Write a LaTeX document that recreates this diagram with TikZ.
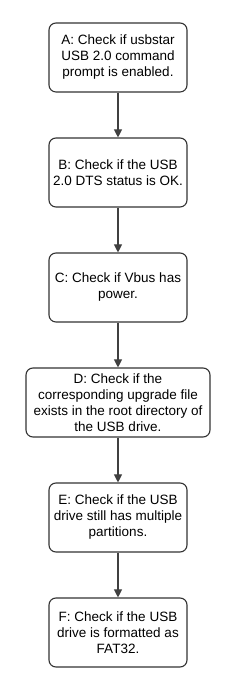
\documentclass[tikz,border=0pt]{standalone}
\usepackage{fontspec}
\setmainfont{Liberation Sans}
\usetikzlibrary{arrows.meta}
\begin{document}
\begin{tikzpicture}[x=1pt,y=1pt,
  stepbox/.style={draw=black!80, line width=1.1pt, rounded corners=7pt, fill=white,
    minimum height=69pt, align=center, inner sep=0pt,
    font=\fontsize{13.5}{16}\selectfont},
  arr/.style={draw=black!75, line width=1.1pt, -{Triangle[length=8pt,width=8pt]}}]
\useasboundingbox (0,0) rectangle (237,690);
\fill[white] (0,0) rectangle (237,690);
\node[stepbox, minimum width=138pt] (A) at (118,632.5) {A: Check if usbstar\\USB 2.0 command\\prompt is enabled.};
\node[stepbox, minimum width=138pt] (B) at (118,517.5) {B: Check if the USB\\2.0 DTS status is OK.};
\node[stepbox, minimum width=138pt] (C) at (118,402.5) {C: Check if Vbus has\\power.};
\node[stepbox, minimum width=184pt] (D) at (118,287.5) {D: Check if the\\corresponding upgrade file\\exists in the root directory of\\the USB drive.};
\node[stepbox, minimum width=138pt] (E) at (118,172.5) {E: Check if the USB\\drive still has multiple\\partitions.};
\node[stepbox, minimum width=138pt] (F) at (118,57.5) {F: Check if the USB\\drive is formatted as\\FAT32.};
\draw[arr] (A) -- (B);
\draw[arr] (B) -- (C);
\draw[arr] (C) -- (D);
\draw[arr] (D) -- (E);
\draw[arr] (E) -- (F);
\end{tikzpicture}
\end{document}
